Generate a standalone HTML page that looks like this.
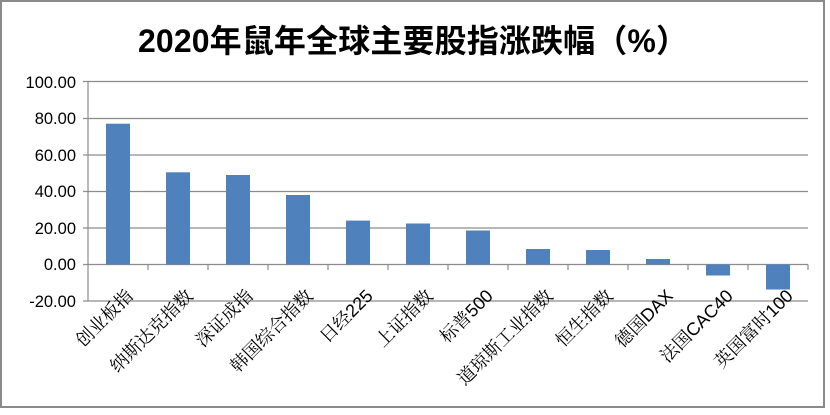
<!DOCTYPE html>
<html><head><meta charset="utf-8"><style>
html,body{margin:0;padding:0;background:#fff;}
</style></head><body>
<svg width="830" height="410" xmlns="http://www.w3.org/2000/svg" font-family="'Liberation Sans','Noto Sans CJK SC',sans-serif">
<rect x="0" y="0" width="830" height="410" fill="#fff"/>
<rect x="1" y="1" width="823" height="406" fill="none" stroke="#8a8a8a" stroke-width="2"/>
<text x="413" y="52" text-anchor="middle" font-size="32" font-weight="bold" fill="#000" textLength="550">2020年鼠年全球主要股指涨跌幅（%）</text>
<g stroke="#8c8c8c" stroke-width="1.2">
<line x1="83" y1="81.5" x2="808" y2="81.5"/>
<line x1="83" y1="118.5" x2="808" y2="118.5"/>
<line x1="83" y1="155" x2="808" y2="155"/>
<line x1="83" y1="191.5" x2="808" y2="191.5"/>
<line x1="83" y1="228" x2="808" y2="228"/>
<line x1="83" y1="264.5" x2="808" y2="264.5"/>
<line x1="83" y1="301" x2="808" y2="301"/>
<line x1="88" y1="81.5" x2="88" y2="301"/>
</g>
<g font-size="16.5" fill="#000" text-anchor="end">
<text x="76" y="88">100.00</text>
<text x="76" y="124">80.00</text>
<text x="76" y="161">60.00</text>
<text x="76" y="197">40.00</text>
<text x="76" y="234">20.00</text>
<text x="76" y="270">0.00</text>
<text x="76" y="307">-20.00</text>
</g>
<g fill="#4f81bd">
<rect x="106" y="123.7" width="24" height="140.8"/>
<rect x="166" y="172.3" width="24" height="92.2"/>
<rect x="226" y="175" width="24" height="89.5"/>
<rect x="286" y="195" width="24" height="69.5"/>
<rect x="346" y="220.6" width="24" height="43.9"/>
<rect x="406" y="223.5" width="24" height="41"/>
<rect x="466" y="230.5" width="24" height="34"/>
<rect x="526" y="249" width="24" height="15.5"/>
<rect x="586" y="250" width="24" height="14.5"/>
<rect x="646" y="259" width="24" height="5.5"/>
<rect x="706" y="264.5" width="24" height="11"/>
<rect x="766" y="264.5" width="24" height="25"/>
</g>
<g stroke="#8c8c8c" stroke-width="1.2">
<line x1="148" y1="264.5" x2="148" y2="270"/><line x1="208" y1="264.5" x2="208" y2="270"/>
<line x1="268" y1="264.5" x2="268" y2="270"/><line x1="328" y1="264.5" x2="328" y2="270"/>
<line x1="388" y1="264.5" x2="388" y2="270"/><line x1="448" y1="264.5" x2="448" y2="270"/>
<line x1="508" y1="264.5" x2="508" y2="270"/><line x1="568" y1="264.5" x2="568" y2="270"/>
<line x1="628" y1="264.5" x2="628" y2="270"/><line x1="688" y1="264.5" x2="688" y2="270"/>
<line x1="748" y1="264.5" x2="748" y2="270"/><line x1="808" y1="264.5" x2="808" y2="270"/>
</g>
<g font-size="18" fill="#000" text-anchor="end" font-family="'Liberation Sans','Noto Serif CJK SC',serif">
<text transform="translate(134,297) rotate(-45)">创业板指</text>
<text transform="translate(194,297) rotate(-45)">纳斯达克指数</text>
<text transform="translate(254,297) rotate(-45)">深证成指</text>
<text transform="translate(314,297) rotate(-45)">韩国综合指数</text>
<text transform="translate(374,297) rotate(-45)">日经225</text>
<text transform="translate(434,297) rotate(-45)">上证指数</text>
<text transform="translate(494,297) rotate(-45)">标普500</text>
<text transform="translate(554,297) rotate(-45)">道琼斯工业指数</text>
<text transform="translate(614,297) rotate(-45)">恒生指数</text>
<text transform="translate(674,297) rotate(-45)">德国DAX</text>
<text transform="translate(734,297) rotate(-45)">法国CAC40</text>
<text transform="translate(794,297) rotate(-45)">英国富时100</text>
</g>
</svg>
</body></html>
